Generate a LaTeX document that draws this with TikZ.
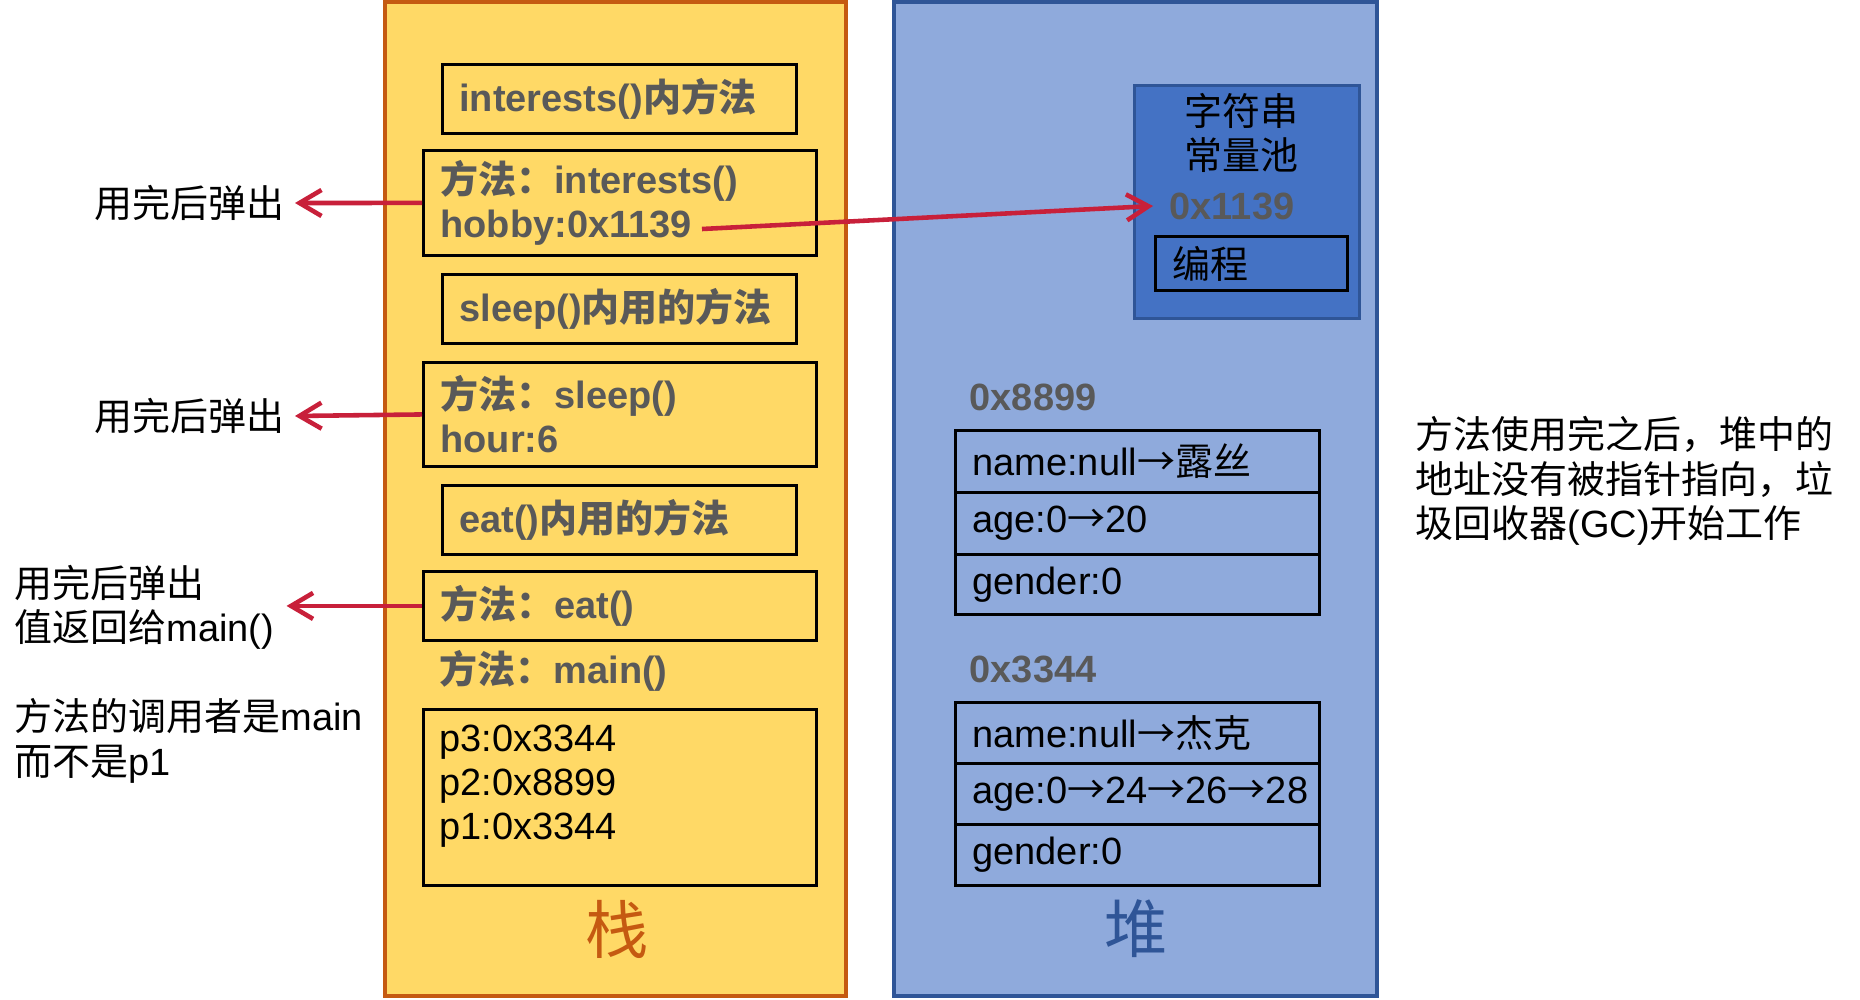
\documentclass[tikz,border=0pt]{standalone}
\usepackage{fontspec}
\setmainfont{Liberation Sans}
\newfontfamily\cjk{Noto Sans CJK SC}
\newcommand{\zh}[1]{{\cjk #1}}
\usetikzlibrary{arrows.meta}

\definecolor{stackfill}{HTML}{FFD966}
\definecolor{stackline}{HTML}{C55A11}
\definecolor{heapfill}{HTML}{8FAADC}
\definecolor{heapline}{HTML}{2F5597}
\definecolor{poolfill}{HTML}{4472C4}
\definecolor{txtgray}{HTML}{595959}
\definecolor{popred}{HTML}{C8203A}

\begin{document}
\begin{tikzpicture}[x=0.01cm, y=-0.01cm,
  every node/.style={font=\fontsize{10.8}{12.6}\selectfont, inner sep=0pt},
  cell/.style 2 args={draw, line width=0.8pt, anchor=north west, text width=#1,
    minimum height=#2, inner xsep=0.17cm, align=left},
  boldtxt/.style={font=\fontsize{10.8}{12.6}\selectfont\bfseries, text=txtgray},
  popline/.style={draw=popred, line width=1.3pt, -{Straight Barb[length=2.2mm,width=2.6mm]}}]
\useasboundingbox (0,0) rectangle (1860,1000);

% Stapel und Heap
\draw[line width=1.2pt, draw=stackline, fill=stackfill] (385,2) rectangle (846,996);
\draw[line width=1.2pt, draw=heapline, fill=heapfill] (894,2) rectangle (1377,996);

% Methoden im Stapel
\node[cell={3.20cm}{0.69cm}, boldtxt] (in1) at (441,63) {interests()\zh{内方法}};
\node[cell={3.59cm}{1.05cm}, boldtxt] (fm1) at (422,149) {\zh{方法：}interests()\\hobby:0x1139};
\node[cell={3.20cm}{0.69cm}, boldtxt] (in2) at (441,273) {sleep()\zh{内用的方法}};
\node[cell={3.59cm}{1.04cm}, boldtxt] (fm2) at (422,361) {\zh{方法：}sleep()\\hour:6};
\node[cell={3.20cm}{0.69cm}, boldtxt] (in3) at (441,484) {eat()\zh{内用的方法}};
\node[cell={3.59cm}{0.69cm}, boldtxt] (fm3) at (422,570) {\zh{方法：}eat()};
\node[boldtxt, anchor=west] (fm4) at (439,671) {\zh{方法：}main()};
\node[cell={3.59cm}{1.76cm}] (vars) at (422,708) {};
\node[anchor=north west, align=left] (plist) at (439,724) {p3:0x3344\\p2:0x8899\\p1:0x3344};
\node[font=\fontsize{18}{20}\selectfont\cjk, text=stackline] (zhan) at (617,929) {栈};

% Konstantenpool
\node[draw=heapline, line width=0.8pt, fill=poolfill, anchor=north west,
  minimum width=2.25cm, minimum height=2.33cm] (pool) at (1133,84) {};
\node[anchor=west, align=left] (pooltxt) at (1184,133) {\zh{字符串}\\\zh{常量池}};
\node[boldtxt, anchor=west, inner xsep=0.16cm] (a1139) at (1153,206) {0x1139};
\node[cell={1.58cm}{0.54cm}] (prog) at (1154,235) {\zh{编程}};

% Objekte
\node[boldtxt, anchor=west] (o8899) at (969,397) {0x8899};
\node[cell={3.30cm}{0.62cm}] (n1) at (954,429) {name:null\zh{→露丝}};
\node[cell={3.30cm}{0.62cm}] (g1) at (954,491) {age:0\zh{→}20};
\node[cell={3.30cm}{0.60cm}] (s1) at (954,553) {gender:0};
\node[boldtxt, anchor=west] (o3344) at (969,669) {0x3344};
\node[cell={3.30cm}{0.61cm}] (n2) at (954,701) {name:null\zh{→杰克}};
\node[cell={3.30cm}{0.61cm}] (g2) at (954,762) {age:0\zh{→}24\zh{→}26\zh{→}28};
\node[cell={3.30cm}{0.61cm}] (s2) at (954,823) {gender:0};
\node[font=\fontsize{18}{20}\selectfont\cjk, text=heapline] (dui) at (1136,929) {堆};

% Anmerkungen
\node[anchor=west, align=left] (gcnote) at (1415,481)
  {\zh{方法使用完之后，堆中的}\\\zh{地址没有被指针指向，垃}\\\zh{圾回收器}(GC)\zh{开始工作}};
\node[anchor=east, inner xsep=0.1cm] (pop1) at (295,203) {\zh{用完后弹出}};
\node[anchor=east, inner xsep=0.1cm] (pop2) at (295,416) {\zh{用完后弹出}};
\node[anchor=west, align=left, text width=2.61cm, inner xsep=0.1cm] (pop3) at (4,607)
  {\zh{用完后弹出}\\\zh{值返回给}main()};
\node[anchor=west, align=left] (caller) at (14,741) {\zh{方法的调用者是}main\\\zh{而不是}p1};

% Pfeile
\coordinate (hob) at (702,229);
\draw[popline] (fm1.west) -- (pop1.east);
\draw[popline] (fm2.west) -- (pop2.east);
\draw[popline] (fm3.west) -- (fm3.west -| pop3.east);
\draw[popline] (hob) -- (a1139.west);

\end{tikzpicture}
\end{document}
